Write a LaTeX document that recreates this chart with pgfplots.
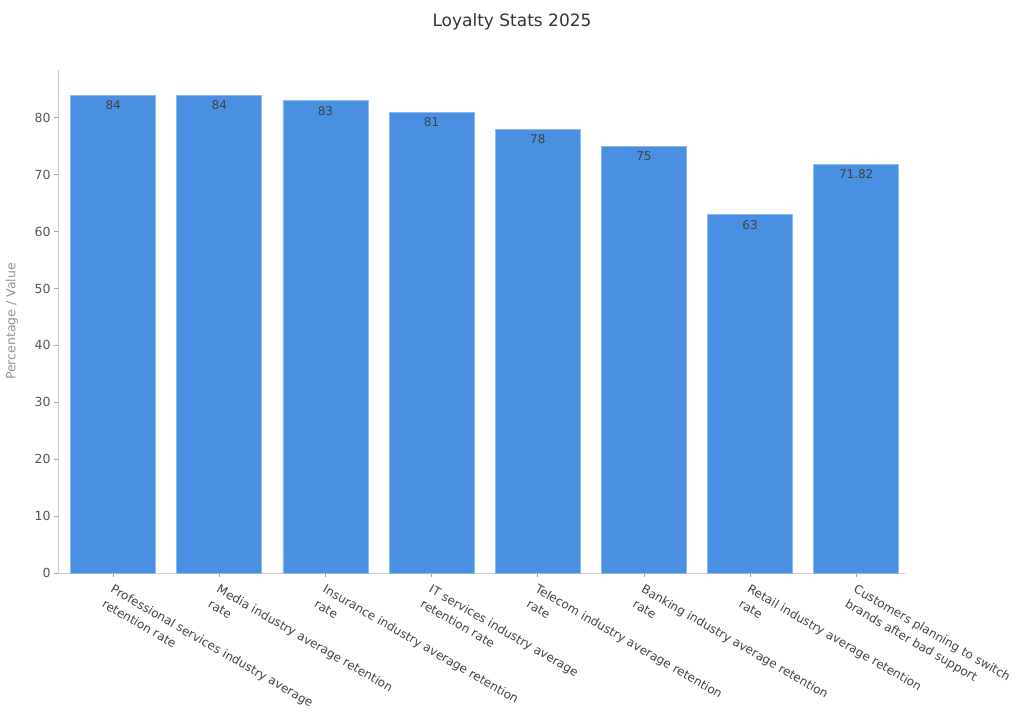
\documentclass[border=0pt]{standalone}
\usepackage{fontspec}
\setmainfont{DejaVu Sans}
\usepackage{pgfplots}
\pgfplotsset{compat=1.18}
\definecolor{barblue}{HTML}{4A90E2}
\definecolor{baredge}{HTML}{8DBBF0}
\definecolor{spine}{HTML}{CCCCCC}
\definecolor{ticktext}{HTML}{555555}
\definecolor{labtext}{HTML}{444444}
\begin{document}
\begin{tikzpicture}
  % canvas 1024 x 714, axis box from (58,70) to (905,573) in pixels
  \useasboundingbox (-58pt,-141pt) rectangle (966pt,573pt);
  \begin{axis}[
    at={(0,0)}, anchor=south west,
    width=847pt, height=503pt, scale only axis,
    ybar, bar width=85pt,
    xmin=-0.52, xmax=7.46, ymin=0, ymax=88.4,
    enlargelimits=false,
    axis x line*=bottom, axis y line*=left,
    axis line style={color=spine, line width=0.8pt},
    tick align=outside, major tick length=4pt,
    tick style={color=spine!80!black, line width=0.8pt},
    xtick={0,...,7},
    xticklabels={
      Professional services industry average\\retention rate,
      Media industry average retention\\rate,
      Insurance industry average retention\\rate,
      IT services industry average\\retention rate,
      Telecom industry average retention\\rate,
      Banking industry average retention\\rate,
      Retail industry average retention\\rate,
      Customers planning to switch\\brands after bad support},
    x tick label style={rotate=-30, anchor=north west, align=left,
      font=\fontsize{12}{17}\selectfont, text=labtext, xshift=1pt, yshift=-2pt},
    ytick={0,10,...,80},
    y tick label style={font=\fontsize{12.5}{15}\selectfont, text=ticktext},
    /pgf/number format/assume math mode=true,
    ylabel={Percentage / Value},
    ylabel style={at={(axis description cs:-0.0543,0.5)}, anchor=center,
      font=\fontsize{12.5}{15}\selectfont, text=gray!85},
    nodes near coords,
    every node near coord/.append style={anchor=north, yshift=-2pt,
      font=\fontsize{12}{14}\selectfont, text=black!75},
  ]
    \addplot[fill=barblue, draw=baredge, line width=0.8pt] coordinates {
      (0,84) (1,84) (2,83) (3,81) (4,78) (5,75) (6,63) (7,71.82)
    };
  \end{axis}
  \node[font=\fontsize{17}{20}\selectfont, text=black!80] at (454pt,551pt) {Loyalty Stats 2025};
\end{tikzpicture}
\end{document}
